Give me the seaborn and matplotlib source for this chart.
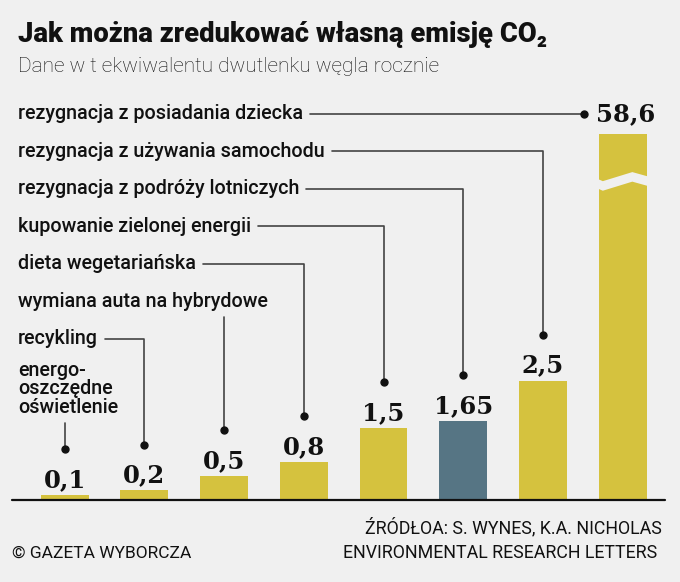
import numpy as np
import pandas as pd
import seaborn as sns
import matplotlib.pyplot as plt
from matplotlib.patches import Polygon

# Data (t CO2 equivalent per year)
categories = [
    'energo-\noszczędne\noświetlenie',
    'recykling',
    'wymiana auta na hybrydowe',
    'dieta wegetariańska',
    'kupowanie zielonej energii',
    'rezygnacja z podróży lotniczych',
    'rezygnacja z używania samochodu',
    'rezygnacja z posiadania dziecka',
]
values = [0.1, 0.2, 0.5, 0.8, 1.5, 1.65, 2.5, 58.6]
value_labels = ['0,1', '0,2', '0,5', '0,8', '1,5', '1,65', '2,5', '58,6']
highlight = 'rezygnacja z podróży lotniczych'

BG = '#f0f0f0'
YELLOW = '#d5c23e'
SLATE = '#567584'
INK = '#111111'
LINE = '#444444'
CAP = 7.65        # the tallest bar is drawn truncated (broken bar)
PX_PER_UNIT = 47.8

df = pd.DataFrame({'cat': categories, 'value': values})
df['shown'] = np.minimum(df['value'], CAP)

sns.set_theme(style='white')
plt.rcParams['font.family'] = ['Roboto', 'DejaVu Sans']

fig = plt.figure(figsize=(6.8, 5.82), dpi=100, facecolor=BG)
ax = fig.add_axes([12 / 680, 82 / 582, 653 / 680, 480 / 582])
ax.set_facecolor(BG)

palette = {c: (SLATE if c == highlight else YELLOW) for c in categories}
sns.barplot(data=df, x='cat', y='shown', hue='cat', palette=palette,
            width=0.6, saturation=1, legend=False, linewidth=0,
            edgecolor='none', ax=ax)

ax.set_xlim(-0.66, 7.53)
ax.set_ylim(0, 480 / PX_PER_UNIT)
ax.set_xticks([])
ax.set_yticks([])
ax.set_xlabel('')
ax.set_ylabel('')
sns.despine(ax=ax, left=True, bottom=True)
ax.axhline(0, color=INK, lw=1.6, clip_on=False)

# break mark on the truncated bar
n = len(categories)
bx = n - 1
brk = 6.6
dx = [-0.4, -0.25, 0.12, 0.4]
dy = [0.08, -0.03, 0.16, 0.03]
upper = [(bx + a, brk + b + 0.1) for a, b in zip(dx, dy)]
lower = [(bx + a, brk + b - 0.1) for a, b in zip(dx, dy)]
ax.add_patch(Polygon(upper + lower[::-1], closed=True, facecolor=BG,
                     edgecolor='none', zorder=5))

# category labels on the left, one row each
TOP_ROW = 8.08
ROW_STEP = 0.785
lab_kw = dict(fontsize=14.2, fontweight='medium', color=INK,
              transform=ax.get_yaxis_transform())
texts = []
for i, cat in enumerate(categories):
    row_y = TOP_ROW - ROW_STEP * (n - 1 - i)
    if '\n' in cat:
        t = ax.text(0.0092, row_y + 0.32, cat, va='top', ha='left',
                    linespacing=0.95, **lab_kw)
    else:
        t = ax.text(0.0092, row_y, cat, va='center', ha='left', **lab_kw)
    texts.append((t, row_y))

# value labels
val_kw = dict(fontsize=17.5, fontweight='bold', family='DejaVu Serif',
              color=INK, ha='center')
for i, (h, lbl) in enumerate(zip(df['shown'], value_labels)):
    if i == n - 1:
        ax.text(i + 0.03, texts[i][1], lbl, va='center', **val_kw)
    else:
        ax.text(i, h + 0.06, lbl, va='bottom', **val_kw)

# leader lines from labels to bars
fig.canvas.draw()
renderer = fig.canvas.get_renderer()
inv = ax.transData.inverted()
for i, (t, row_y) in enumerate(texts):
    bb = t.get_window_extent(renderer)
    x_end = inv.transform((bb.x1 + 7, bb.y0))[0]
    y_bottom = inv.transform((bb.x0, bb.y0 - 6))[1]
    h = df['shown'][i]
    if i == n - 1:
        dot_x, dot_y = i - 0.48, row_y
        ax.plot([x_end, dot_x], [row_y, row_y], color=LINE, lw=1.2)
    elif x_end < i:
        dot_x, dot_y = i, h + 0.96
        ax.plot([x_end, i, i], [row_y, row_y, dot_y], color=LINE, lw=1.2)
    else:
        dot_x, dot_y = i, h + 0.96
        ax.plot([i, i], [y_bottom, dot_y], color=LINE, lw=1.2)
    ax.plot(dot_x, dot_y, 'o', color=INK, markersize=5)

# title, subtitle and footer
fig.text(18 / 680, 1 - 35 / 582, 'Jak można zredukować własną emisję CO₂',
         fontsize=19.7, fontweight='heavy', color=INK, va='center', ha='left')
fig.text(18 / 680, 1 - 66 / 582, 'Dane w t ekwiwalentu dwutlenku węgla rocznie',
         fontsize=15, fontweight='light', color=INK, va='center', ha='left')
fig.text(12 / 680, 1 - 553 / 582, '© GAZETA WYBORCZA',
         fontsize=12.5, color=INK, va='center', ha='left')
fig.text(662 / 680, 1 - 528 / 582, 'ŹRÓDŁOA: S. WYNES, K.A. NICHOLAS',
         fontsize=12.8, color=INK, va='center', ha='right')
fig.text(657 / 680, 1 - 553 / 582, 'ENVIRONMENTAL RESEARCH LETTERS',
         fontsize=12.8, color=INK, va='center', ha='right')

fig.savefig('out.png', dpi=100, facecolor=BG)
